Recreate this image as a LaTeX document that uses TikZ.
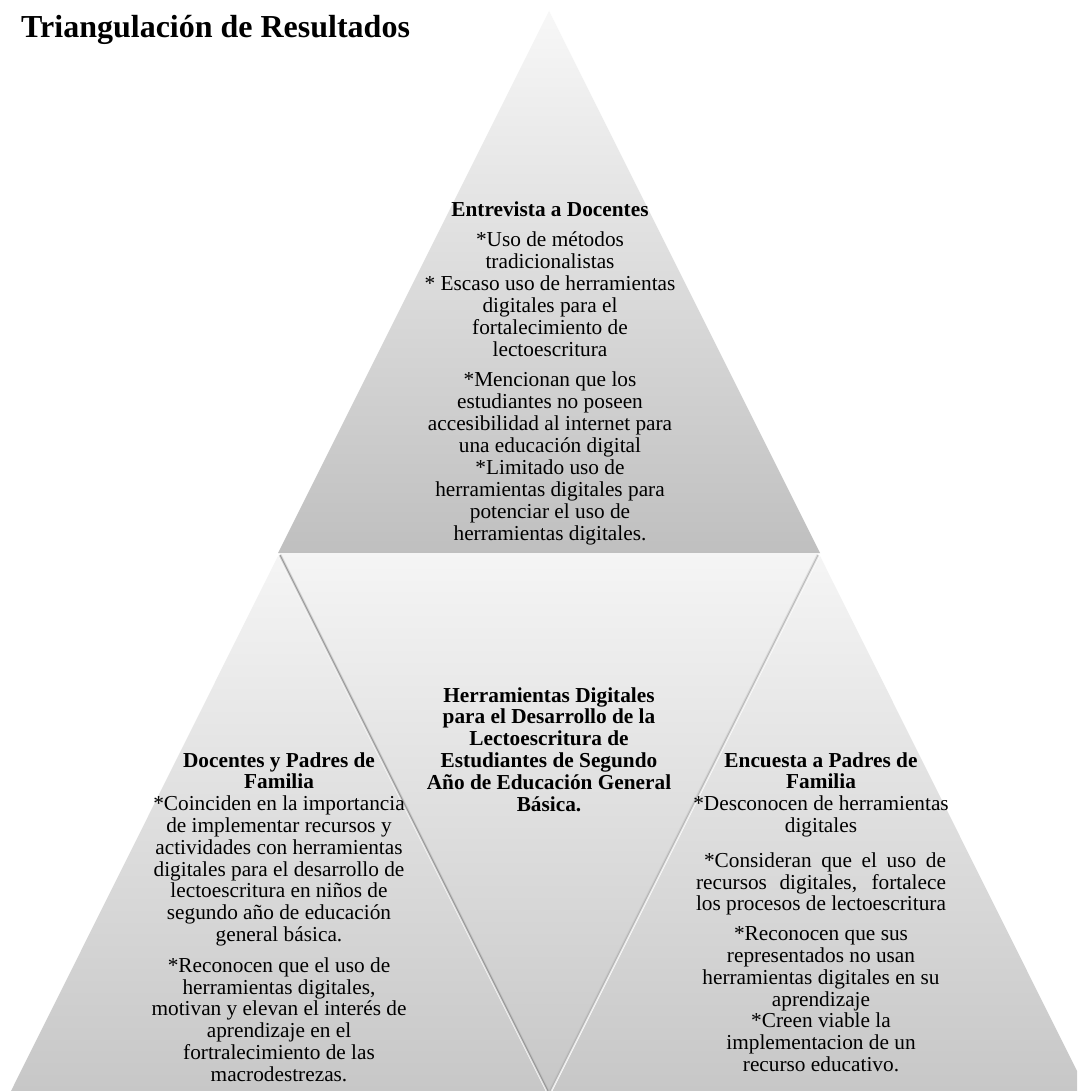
\documentclass[tikz,border=0pt]{standalone}
\usepackage{fontspec}
\setmainfont{Liberation Serif}
\newcommand\cblock[2]{\vtop{\baselineskip=#1\lineskiplimit=-30pt\halign{\hfil##\hfil\cr#2\crcr}}}
\tikzset{
  txt/.style={anchor=base, inner sep=0pt, font=\fontsize{21.3}{22}\selectfont},
  segtop/.style={top color=black!3, bottom color=black!25},
  segbot/.style={top color=black!4, bottom color=black!22},
  gapsoft/.style={draw=black!30, line width=3pt, opacity=0.45},
  gapline/.style={draw=black!50, line width=1pt, opacity=0.7},
  gaplineb/.style={draw=black!38, line width=0.9pt, opacity=0.6}
}
\begin{document}
\begin{tikzpicture}[x=1pt,y=-1pt]
\useasboundingbox (0,0) rectangle (1077,1091);
\clip (0,0) rectangle (1077,1091);
\fill[white] (0,0) rectangle (1077,1091);

% four segments of the pyramid
\shade[segtop] (549,11) -- (820,553) -- (278,553) -- cycle;
\shade[segbot] (279,553) -- (819,553) -- (549,1093) -- cycle;
\shade[segbot] (278,556) -- (546.5,1093) -- (10,1093) -- cycle;
\shade[segbot] (820,556) -- (1088,1093) -- (551.5,1093) -- cycle;

% soft separation lines (shadows of the middle segment)
\coordinate (gl1) at (280,555);
\coordinate (gl2) at (548,1091);
\coordinate (gr1) at (818,555);
\coordinate (gr2) at (550,1091);
\draw[gapsoft] (gl1) -- (gl2);
\draw[gapsoft, opacity=0.3] (gr1) -- (gr2);
\draw[gapline] (gl1) -- (gl2);
\draw[gaplineb] (gr1) -- (gr2);

% title
\node[anchor=base west, inner sep=0pt, font=\fontsize{32}{36}\selectfont\bfseries] (title) at (21,38) {Triangulación de Resultados};

% top text
\node[txt] (toptext) at (550,216.7) {\cblock{22pt}{\textbf{Entrevista a Docentes}\cr\noalign{\vskip8pt}
*Uso de métodos\cr
tradicionalistas\cr
* Escaso uso de herramientas\cr
digitales para el\cr
fortalecimiento de\cr
lectoescritura\cr\noalign{\vskip8pt}
*Mencionan que los\cr
estudiantes no poseen\cr
accesibilidad al internet para\cr
una educación digital\cr
*Limitado uso de\cr
herramientas digitales para\cr
potenciar el uso de\cr
herramientas digitales.}};

% middle text
\node[txt, font=\fontsize{21.3}{22}\selectfont\bfseries] (midtext) at (549,702) {\cblock{21.8pt}{Herramientas Digitales\cr
para el Desarrollo de la\cr
Lectoescritura de\cr
Estudiantes de Segundo\cr
Año de Educación General\cr
Básica.}};

% left text
\node[txt] (lefttext) at (279,767) {\cblock{21.8pt}{\textbf{Docentes y Padres de}\cr
\textbf{Familia}\cr
*Coinciden en la importancia\cr
de implementar recursos y\cr
actividades con herramientas\cr
digitales para el desarrollo de\cr
lectoescritura en niños de\cr
segundo año de educación\cr
general básica.\cr\noalign{\vskip9pt}
*Reconocen que el uso de\cr
herramientas digitales,\cr
motivan y elevan el interés de\cr
aprendizaje en el\cr
fortralecimiento de las\cr
macrodestrezas.}};

% right text
\node[txt] (righttext) at (821,767) {\cblock{21.8pt}{\textbf{Encuesta a Padres de}\cr
\textbf{Familia}\cr
*Desconocen de herramientas\cr
digitales\cr\noalign{\vskip13pt}
\hspace*{8pt}\makebox[242pt][s]{*Consideran que el uso de}\cr
\makebox[250pt][s]{recursos digitales, fortalece}\cr
\makebox[250pt][s]{los procesos de lectoescritura}\cr\noalign{\vskip8pt}
*Reconocen que sus\cr
representados no usan\cr
herramientas digitales en su\cr
aprendizaje\cr
*Creen viable la\cr
implementacion de un\cr
recurso educativo.}};
\end{tikzpicture}
\end{document}
